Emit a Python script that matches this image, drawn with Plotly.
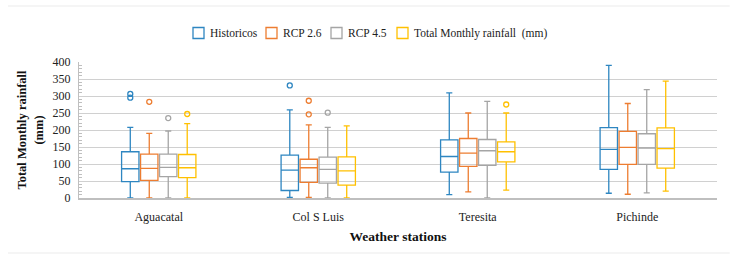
import plotly.graph_objects as go

stations = ["Aguacatal", "Col S Luis", "Teresita", "Pichinde"]
series = ["Historicos", "RCP 2.6", "RCP 4.5", "Total Monthly rainfall  (mm)"]
colors = ["#2E86C1", "#ED7D31", "#A5A5A5", "#FFC000"]

# per series: values per station
lower = [
    [0, 2, 10, 14],
    [0, 2, 18, 11],
    [0, 0, 0, 15],
    [0, 0, 23, 20],
]
q1 = [
    [48, 22, 76, 84],
    [52, 46, 93, 99],
    [63, 44, 96, 99],
    [60, 38, 106, 88],
]
median = [
    [86, 82, 122, 143],
    [87, 89, 132, 149],
    [90, 84, 139, 147],
    [89, 80, 136, 145],
]
q3 = [
    [136, 126, 171, 207],
    [129, 114, 175, 196],
    [129, 120, 172, 189],
    [128, 121, 165, 206],
]
upper = [
    [208, 259, 309, 390],
    [190, 215, 250, 278],
    [197, 208, 284, 319],
    [219, 212, 250, 344],
]
outliers = [
    [[306, 295], [331], [], []],
    [[283], [286, 246], [], []],
    [[235], [251], [], []],
    [[247], [], [275], []],
]

n_series = len(series)
slot = 0.119
box_w = 0.109

W, H = 735, 255
ML, MR, MT, MB = 79, 18, 62, 57
PW, PH = W - ML - MR, H - MT - MB

fig = go.Figure()
for k in range(n_series):
    xs = [i + (k - (n_series - 1) / 2) * slot for i in range(len(stations))]
    fig.add_trace(go.Box(
        x=xs, q1=q1[k], median=median[k], q3=q3[k],
        lowerfence=lower[k], upperfence=upper[k],
        width=box_w, name=series[k],
        line=dict(color=colors[k], width=1.3),
        fillcolor="rgba(255,255,255,0)",
        whiskerwidth=0.35, boxpoints=False, showlegend=False,
    ))
    ox, oy = [], []
    for i, vals in enumerate(outliers[k]):
        for v in vals:
            ox.append(xs[i])
            oy.append(v)
    fig.add_trace(go.Scatter(
        x=ox, y=oy, mode="markers", showlegend=False,
        marker=dict(symbol="circle-open", size=5, color=colors[k], line=dict(width=1.3)),
        hoverinfo="y",
    ))

serif = "Liberation Serif, Times New Roman, serif"

# legend drawn as squares + text (pixel positions converted to paper units)
legend_px = [193, 266, 331, 397]
legend_y = 33
sq = 11
shapes = []
annotations = []
for k in range(n_series):
    x0 = (legend_px[k] - ML) / PW
    x1 = (legend_px[k] + sq - ML) / PW
    y0 = (MT + PH - (legend_y + sq / 2)) / PH
    y1 = (MT + PH - (legend_y - sq / 2)) / PH
    shapes.append(dict(type="rect", xref="paper", yref="paper", x0=x0, x1=x1, y0=y0, y1=y1,
                       line=dict(color=colors[k], width=1.3), fillcolor="rgba(0,0,0,0)"))
    annotations.append(dict(xref="paper", yref="paper", x=(legend_px[k] + sq + 4 - ML) / PW,
                            y=(MT + PH - legend_y) / PH, xanchor="left", yanchor="middle",
                            text=series[k], showarrow=False,
                            font=dict(family=serif, size=11.5, color="#222")))

shapes += [
    dict(type="line", xref="paper", yref="paper", x0=(8 - ML) / PW, x1=1.02,
         y0=(MT + PH - 6) / PH, y1=(MT + PH - 6) / PH, line=dict(color="#EBEBEB", width=1)),
    dict(type="line", xref="paper", yref="paper", x0=(8 - ML) / PW, x1=1.02,
         y0=(MT + PH - 253) / PH, y1=(MT + PH - 253) / PH, line=dict(color="#EBEBEB", width=1)),
]

fig.update_layout(
    width=W, height=H,
    margin=dict(l=ML, r=MR, t=MT, b=MB, autoexpand=False),
    paper_bgcolor="white", plot_bgcolor="white",
    font=dict(family=serif, size=12, color="#222"),
    showlegend=False,
    xaxis=dict(
        range=[-0.5, len(stations) - 0.5],
        tickvals=list(range(len(stations))), ticktext=stations,
        showgrid=False, zeroline=False,
        showline=True, linecolor="#BFBFBF", linewidth=1.5,
        ticks="", ticklabelstandoff=7, tickfont=dict(family=serif, size=12, color="#222"),
        title=dict(text="<b>Weather stations</b>", font=dict(family=serif, size=13.5, color="#111"), standoff=8),
    ),
    yaxis=dict(
        range=[0, 400], dtick=50,
        showgrid=True, gridcolor="#D0D0D0", gridwidth=1,
        zeroline=False, showline=True, linecolor="#BFBFBF", linewidth=1,
        ticks="", ticklabelstandoff=5, tickfont=dict(family=serif, size=12, color="#222"),
        minor=dict(ticks="inside", dtick=10, ticklen=3, tickcolor="#BFBFBF", showgrid=False),
        title=dict(text="<b>Total Monthly rainfall<br>(mm)</b>", font=dict(family=serif, size=12.5, color="#111"), standoff=6),
    ),
    shapes=shapes,
    annotations=annotations,
)

fig.write_html("out.html", config={"displayModeBar": False},
               post_script="document.body.style.margin='0';")
